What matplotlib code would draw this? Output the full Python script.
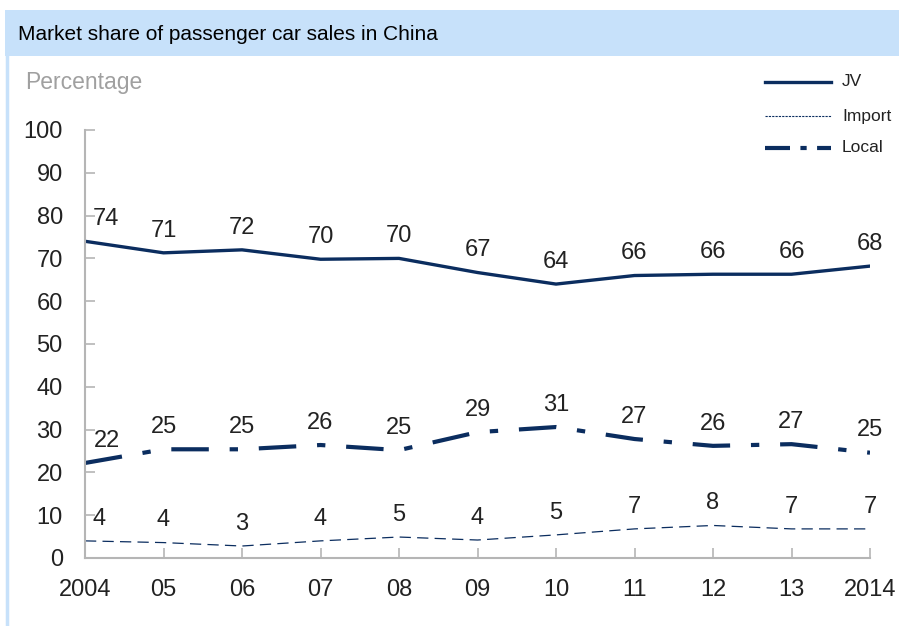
import matplotlib.pyplot as plt
import matplotlib.patches as mpatches
from matplotlib.lines import Line2D

plt.rcParams['font.family'] = ['Liberation Sans', 'DejaVu Sans']

years = [2004, 2005, 2006, 2007, 2008, 2009, 2010, 2011, 2012, 2013, 2014]
year_labels = ['2004', '05', '06', '07', '08', '09', '10', '11', '12', '13', '2014']

jv = [74.0, 71.3, 72.0, 69.8, 70.0, 66.7, 64.0, 66.0, 66.3, 66.3, 68.2]
jv_lbl = [74, 71, 72, 70, 70, 67, 64, 66, 66, 66, 68]

imp = [4.0, 3.6, 2.8, 4.0, 4.9, 4.2, 5.4, 6.8, 7.6, 6.8, 6.8]
imp_lbl = [4, 4, 3, 4, 5, 4, 5, 7, 8, 7, 7]

local = [22.2, 25.4, 25.4, 26.4, 25.2, 29.4, 30.6, 27.8, 26.2, 26.6, 24.6]
local_lbl = [22, 25, 25, 26, 25, 29, 31, 27, 26, 27, 25]

series_names = ['JV', 'Import', 'Local']

navy = '#0b2d5f'
grey_axis = '#b5b5b5'
bar_blue = '#c7e1fa'

W, H = 899, 626
fig = plt.figure(figsize=(W / 100, H / 100), dpi=100)

# title bar and left border
fig.patches.append(mpatches.Rectangle((5 / W, 1 - 56 / H), 1, 46 / H,
                                      transform=fig.transFigure, facecolor=bar_blue,
                                      edgecolor='none', zorder=0))
fig.lines.append(Line2D([7 / W, 7 / W], [0, 1 - 56 / H], transform=fig.transFigure,
                        color=bar_blue, linewidth=2.5))
fig.text(18 / W, 1 - 35 / H, 'Market share of passenger car sales in China',
         fontsize=15, va='center', ha='left', color='black')
fig.text(25 / W, 1 - 82 / H, 'Percentage', fontsize=16.5, va='center', ha='left',
         color='#a0a0a0')

ax = fig.add_axes([85 / W, 1 - 558 / H, 785 / W, 428 / H])

ax.plot(years, jv, color=navy, linewidth=2.4, solid_joinstyle='round')
ax.plot(years, imp, color=navy, linewidth=0.9, dashes=(9, 5))
ax.plot(years, local, color=navy, linewidth=3.0, dashes=(9, 5, 2, 5))

def label_series(vals, lbls, first_shift):
    for i, (x, v, t) in enumerate(zip(years, vals, lbls)):
        dx = first_shift if i == 0 else 0
        ax.annotate(str(t), (x, v), xytext=(dx, 16), textcoords='offset points',
                    ha='center', va='center', fontsize=17, color='#222222')

label_series(jv, jv_lbl, 15)
label_series(imp, imp_lbl, 10)
label_series(local, local_lbl, 16)

ax.set_xlim(2004, 2014)
ax.set_ylim(0, 100)
ax.set_xticks(years)
ax.set_xticklabels(year_labels)
ax.set_yticks(range(0, 101, 10))

for s in ['top', 'right']:
    ax.spines[s].set_visible(False)
for s in ['left', 'bottom']:
    ax.spines[s].set_color(grey_axis)
    ax.spines[s].set_linewidth(1.5)

ax.tick_params(axis='both', direction='in', length=7, width=1.2, color=grey_axis,
               labelsize=17, labelcolor='#222222')
ax.tick_params(axis='y', pad=16)
ax.tick_params(axis='x', pad=15)
ax.patch.set_alpha(0)

# legend, drawn by hand to sit where the reference has it
legend_styles = [
    dict(linewidth=2.4),
    dict(linewidth=0.8, dashes=(2, 1)),
    dict(linewidth=3.0, dashes=(6, 2.5, 1.5, 2.5)),
]
legend_y = [82, 116, 148]
for name, style, y in zip(series_names, legend_styles, legend_y):
    fig.lines.append(Line2D([765 / W, 831 / W], [1 - y / H, 1 - y / H],
                            transform=fig.transFigure, color=navy, **style))
    fig.text(842 / W, 1 - y / H, name, fontsize=12.5, va='center', ha='left',
             color='#222222')

fig.savefig('out.png', dpi=100, facecolor='white')
